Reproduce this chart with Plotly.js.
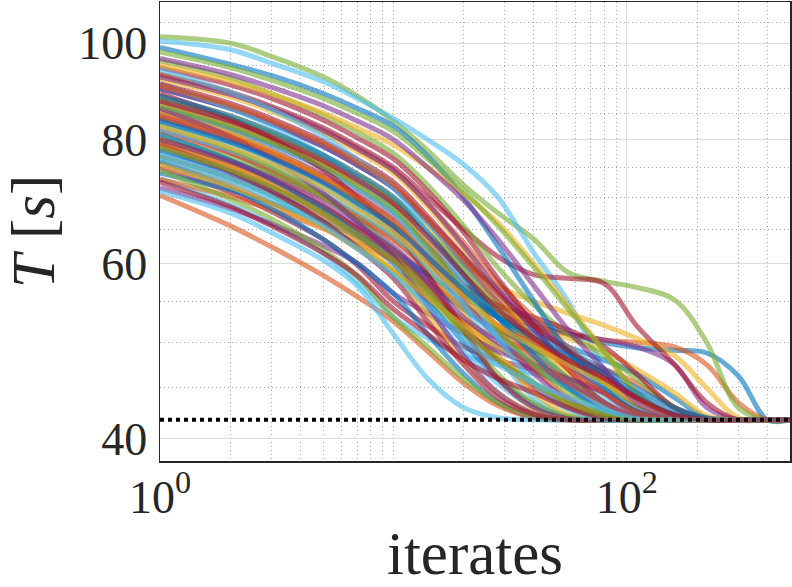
<!DOCTYPE html>
<html>
<head>
<meta charset="utf-8">
<script src="https://cdn.plot.ly/plotly-3.0.1.min.js"></script>
<style>html,body{margin:0;padding:0;background:#fff;}#chart{width:792px;height:587px;}</style>
</head>
<body>
<div id="chart"></div>
<script>
// iterate grid (x values shared by all runs)
const iters = [1, 2, 3, 5, 7, 10, 14, 20, 28, 40, 56, 80, 110, 160, 220, 300, 400, 500];
// converged value (dotted black line)
const targetT = 41.8;
const targetX = [1, 500];

// individual runs, T [s] read at the iterates above (colour order: blue, orange, yellow, purple, green, light blue, dark red)
const run01 = [84, 79.6, 76.5, 72.2, 68.7, 64.5, 60, 57, 54.5, 52.5, 51, 50, 49.4, 49.1, 48.8, 46.3, 41.8, 41.8];
const run02 = [80, 76.2, 73.5, 69.8, 66.8, 63.5, 59.5, 56, 53.5, 52, 51, 50.3, 50, 49.5, 47.5, 43.5, 41.8, 41.8];
const run03 = [86, 82.2, 79.4, 75.5, 72.5, 69, 64.5, 60, 57, 55, 53.5, 52, 50.5, 48.5, 45, 42, 41.8, 41.8];
const run04 = [78, 74.3, 71.6, 68.1, 65.2, 62, 58.5, 55.5, 53.5, 52, 51, 50.3, 49.5, 47.5, 43, 41.8, 41.8, 41.8];
const run05 = [101.5, 100, 97, 92.5, 88.5, 83.5, 78, 72, 67.5, 63.5, 58.8, 57.6, 56.8, 55.2, 50, 43, 41.8, 41.8];
const run06 = [100.5, 98.5, 95.5, 91.5, 88, 84, 80, 75.5, 70, 61.5, 55, 47, 42.5, 41.8, 41.8, 41.8, 41.8, 41.8];
const run07 = [93, 89.3, 86.4, 82.2, 78.8, 75, 70, 65, 61, 58.5, 58, 57.3, 52, 47.5, 43.5, 41.8, 41.8, 41.8];

const run08 = [90, 86, 83, 78.7, 75.4, 71.5, 66, 60, 55, 51.5, 49.5, 48, 46.5, 44, 42, 41.8, 41.8, 41.8];
const run09 = [76, 72, 69.1, 65.3, 62.2, 59, 55.5, 52.5, 50.5, 49, 48, 47, 45.5, 43, 41.9, 41.8, 41.8, 41.8];
const run10 = [88.5, 84.5, 81.5, 77.2, 73.9, 70, 65, 59, 54.5, 52, 50.5, 49, 47, 44.5, 42.2, 41.8, 41.8, 41.8];
const run11 = [82, 77.6, 74.3, 70, 66.4, 62.5, 58, 54, 51.5, 50, 48.5, 46.5, 44, 42.2, 41.8, 41.8, 41.8, 41.8];
const run12 = [96, 92.2, 89, 84.7, 81.4, 77.5, 72, 65.5, 59.5, 54.5, 51, 48.5, 46, 43, 41.9, 41.8, 41.8, 41.8];
const run13 = [73, 68.8, 65.8, 61.5, 57.5, 53, 50.5, 48.5, 47.5, 46.5, 45.5, 44, 42.5, 41.8, 41.8, 41.8, 41.8, 41.8];
const run14 = [85, 81, 78, 73.7, 70.4, 66.5, 61.5, 57, 54.5, 53, 51.5, 49.5, 46.5, 43, 41.9, 41.8, 41.8, 41.8];

const run15 = [78, 74, 71.1, 67.3, 64.2, 61, 57.5, 54, 51.5, 49.5, 47.5, 45, 42.8, 41.8, 41.8, 41.8, 41.8, 41.8];
const run16 = [93, 89.2, 86, 81.7, 78.4, 74.5, 69, 63, 57.5, 53, 49.5, 46, 43, 41.9, 41.8, 41.8, 41.8, 41.8];
const run17 = [84, 80, 77.2, 73, 69.6, 66, 61.5, 57, 53.5, 50.5, 48, 45.5, 43, 41.9, 41.8, 41.8, 41.8, 41.8];
const run18 = [90, 86, 83, 78.7, 75.4, 71.5, 66.5, 61, 56.5, 52.5, 49, 45.5, 43, 41.8, 41.8, 41.8, 41.8, 41.8];
const run19 = [80.5, 76.7, 74, 70.2, 67.2, 64, 60, 56, 53, 50.5, 48, 45.5, 43, 41.9, 41.8, 41.8, 41.8, 41.8];
const run20 = [87.5, 83.5, 80.5, 76.2, 72.9, 69, 64, 58.5, 54, 50.5, 47.5, 45, 42.8, 41.8, 41.8, 41.8, 41.8, 41.8];
const run21 = [75, 70.8, 67.7, 63.5, 59.8, 55, 52, 49.5, 48, 47, 46, 44.5, 42.6, 41.8, 41.8, 41.8, 41.8, 41.8];

const run22 = [86, 82, 79, 74.8, 71.4, 67.5, 62.5, 57.5, 53, 49, 46, 43.5, 42, 41.8, 41.8, 41.8, 41.8, 41.8];
const run23 = [81.5, 77.5, 74.7, 70.4, 67.1, 63.5, 59, 54.5, 51, 48, 45.5, 43.2, 41.9, 41.8, 41.8, 41.8, 41.8, 41.8];
const run24 = [92, 88.3, 85.4, 81.2, 77.8, 74, 68.5, 62, 56, 50.5, 46.5, 43.5, 42, 41.8, 41.8, 41.8, 41.8, 41.8];
const run25 = [77, 73.2, 70.5, 66.7, 63.7, 60.5, 56.5, 52.5, 49.5, 47, 45, 43, 41.9, 41.8, 41.8, 41.8, 41.8, 41.8];
const run26 = [88, 84, 81, 76.7, 73.4, 69.5, 64.5, 59, 54, 49.5, 46, 43.3, 41.9, 41.8, 41.8, 41.8, 41.8, 41.8];
const run27 = [82, 78, 75.2, 71, 67.6, 64, 59.5, 55, 51, 47.5, 45, 43, 41.9, 41.8, 41.8, 41.8, 41.8, 41.8];
const run28 = [94.5, 90.8, 88, 83.7, 80.3, 76.5, 71, 64.5, 58, 52, 47, 43.5, 42, 41.8, 41.8, 41.8, 41.8, 41.8];

const run29 = [74, 71.2, 69, 66.2, 64, 61.5, 58.5, 55.5, 53, 51, 49, 47, 45, 43, 42, 41.8, 41.8, 41.8];
const run30 = [87, 83, 80, 75.7, 72.4, 68.5, 63, 57, 51.5, 47, 44, 42.3, 41.8, 41.8, 41.8, 41.8, 41.8, 41.8];
const run31 = [79.5, 75.5, 72.7, 68.5, 65.1, 61.5, 57, 52.5, 48.5, 45.5, 43.3, 42, 41.8, 41.8, 41.8, 41.8, 41.8, 41.8];
const run32 = [84, 80, 77, 72.7, 69.4, 65.5, 60.5, 55, 50.5, 46.5, 43.8, 42.1, 41.8, 41.8, 41.8, 41.8, 41.8, 41.8];
const run33 = [77, 73, 70.2, 66, 62.6, 59, 55, 51, 48, 45.5, 43.5, 42.1, 41.8, 41.8, 41.8, 41.8, 41.8, 41.8];
const run34 = [91, 86, 82.5, 77.2, 73, 68, 61.5, 54.5, 48.5, 44, 42.2, 41.8, 41.8, 41.8, 41.8, 41.8, 41.8, 41.8];
const run35 = [80, 75.7, 72.8, 68.5, 65.1, 61.5, 57, 52, 48, 45, 43, 41.9, 41.8, 41.8, 41.8, 41.8, 41.8, 41.8];

const run36 = [81, 76.3, 73, 68.1, 64.3, 60, 55, 50, 46, 43.3, 42, 41.8, 41.8, 41.8, 41.8, 41.8, 41.8, 41.8];
const run37 = [73, 70.1, 68, 65.1, 62.9, 60.5, 57.5, 54.5, 52, 50, 48, 46, 44, 42.3, 41.8, 41.8, 41.8, 41.8];
const run38 = [85.5, 81.2, 77.8, 73.1, 69.3, 65, 59.5, 53.5, 48.5, 44.5, 42.3, 41.8, 41.8, 41.8, 41.8, 41.8, 41.8, 41.8];
const run39 = [71.5, 68.2, 65.8, 62.6, 60.1, 56, 53.5, 51, 49, 47.5, 46, 44.5, 42.6, 41.8, 41.8, 41.8, 41.8, 41.8];
const run40 = [83, 78.3, 75, 70.1, 66.3, 62, 56.5, 51, 46.5, 43.5, 42.1, 41.8, 41.8, 41.8, 41.8, 41.8, 41.8, 41.8];
const run41 = [77.5, 73.1, 70.2, 65.8, 62.4, 58.5, 54, 49, 45.5, 43, 41.9, 41.8, 41.8, 41.8, 41.8, 41.8, 41.8, 41.8];
const run42 = [89, 83.9, 80.2, 74.6, 70, 65, 58.5, 51.5, 46, 43, 41.9, 41.8, 41.8, 41.8, 41.8, 41.8, 41.8, 41.8];

const run43 = [76, 71.5, 68.2, 63.5, 60, 56, 51, 46.5, 43.5, 42, 41.8, 41.8, 41.8, 41.8, 41.8, 41.8, 41.8, 41.8];
const run44 = [70.3, 65.5, 62.4, 58.4, 55.6, 52.5, 49, 45.5, 43.2, 42, 41.8, 41.8, 41.8, 41.8, 41.8, 41.8, 41.8, 41.8];
const run45 = [80, 75.3, 72, 67.1, 63.3, 59, 53.5, 48, 44.5, 42.5, 41.8, 41.8, 41.8, 41.8, 41.8, 41.8, 41.8, 41.8];
const run46 = [86, 80.5, 76.5, 70.7, 66.1, 61, 54.5, 48.5, 44.5, 42.4, 41.8, 41.8, 41.8, 41.8, 41.8, 41.8, 41.8, 41.8];
const run47 = [74.5, 69.7, 66.6, 62, 58.3, 53, 49.5, 46, 43.5, 42.2, 41.8, 41.8, 41.8, 41.8, 41.8, 41.8, 41.8, 41.8];
const run48 = [71, 67.5, 64.5, 60.5, 57, 51, 46, 43, 42, 41.8, 41.8, 41.8, 41.8, 41.8, 41.8, 41.8, 41.8, 41.8];
const run49 = [79, 74.3, 71, 66.1, 62.3, 58, 52.5, 47.5, 44, 42.3, 41.8, 41.8, 41.8, 41.8, 41.8, 41.8, 41.8, 41.8];

const run50 = [99, 95.2, 92.8, 89, 86, 82.5, 77, 70, 62.5, 55, 49, 45, 42.5, 41.8, 41.8, 41.8, 41.8, 41.8];
const run51 = [84.5, 80.5, 77.5, 73.2, 69.9, 66, 61, 56, 52, 48.5, 45.5, 43, 41.9, 41.8, 41.8, 41.8, 41.8, 41.8];
const run52 = [95, 91.6, 88.9, 85.1, 82.2, 79, 75, 70.5, 66, 60, 54.5, 49, 44.5, 42.2, 41.8, 41.8, 41.8, 41.8];
const run53 = [92.5, 88.8, 86, 81.7, 78.3, 74.5, 69, 62.5, 56.5, 51.5, 47.5, 44.5, 42.3, 41.8, 41.8, 41.8, 41.8, 41.8];
const run54 = [98, 94.5, 91.8, 88, 85, 81.5, 76.5, 71, 65.5, 59.5, 54, 49, 44.5, 42.2, 41.8, 41.8, 41.8, 41.8];
const run55 = [83, 79, 76, 71.7, 68.4, 64.5, 59.5, 54.5, 50.5, 47.5, 45, 43, 41.9, 41.8, 41.8, 41.8, 41.8, 41.8];
const run56 = [91, 87, 84, 79.7, 76.4, 72.5, 67, 61, 56, 52, 49, 46.5, 44, 42.2, 41.8, 41.8, 41.8, 41.8];

const run57 = [88.5, 84.5, 81.5, 77.2, 73.9, 70, 64.5, 58.5, 53, 48.5, 45, 42.6, 41.8, 41.8, 41.8, 41.8, 41.8, 41.8];
const run58 = [79, 74.7, 71.8, 67.5, 64.1, 60.5, 56, 51.5, 48, 45.5, 43.5, 42.2, 41.8, 41.8, 41.8, 41.8, 41.8, 41.8];
const run59 = [75.5, 71.7, 69, 65.2, 62.2, 59, 55.5, 52, 49.5, 47.5, 45.5, 43.5, 42, 41.8, 41.8, 41.8, 41.8, 41.8];
const run60 = [80, 76, 73.2, 69, 65.6, 62, 57.5, 53, 50, 47.5, 45.5, 43.5, 42, 41.8, 41.8, 41.8, 41.8, 41.8];
const run61 = [86.5, 82.5, 79.5, 75.2, 71.9, 68, 62.5, 56.5, 51.5, 47.5, 44.5, 42.5, 41.8, 41.8, 41.8, 41.8, 41.8, 41.8];
const run62 = [94, 89.3, 85.8, 80.6, 76.4, 71.5, 64.5, 57, 50.5, 45.5, 42.8, 41.8, 41.8, 41.8, 41.8, 41.8, 41.8, 41.8];
const run63 = [72.5, 68.5, 65.5, 61.5, 58.4, 54, 51, 48, 46, 44.5, 43, 42, 41.8, 41.8, 41.8, 41.8, 41.8, 41.8];

const run64 = [83.5, 79.5, 76.7, 72.4, 69.1, 65.5, 61, 56.5, 53, 50.5, 48.5, 46.5, 44.5, 42.5, 41.8, 41.8, 41.8, 41.8];
const run65 = [90.5, 86.5, 83.5, 79.2, 75.9, 72, 66.5, 60.5, 55, 50.5, 47, 44.5, 42.5, 41.8, 41.8, 41.8, 41.8, 41.8];
const run66 = [82.5, 78.5, 75.7, 71.5, 68.1, 64.5, 60, 55.5, 52, 49.5, 47.5, 45.5, 43.5, 42, 41.8, 41.8, 41.8, 41.8];
const run67 = [96.5, 93, 90.3, 86.5, 83.5, 80, 75, 69.5, 63.5, 57, 51.5, 47, 43.5, 42, 41.8, 41.8, 41.8, 41.8];
const run68 = [78.5, 74.5, 71.7, 67.5, 64.1, 60.5, 56, 51.5, 48, 45.5, 43.5, 42.2, 41.8, 41.8, 41.8, 41.8, 41.8, 41.8];
const run69 = [76.5, 72.5, 69.7, 65.5, 62.1, 58.5, 54.5, 50.5, 47.5, 45.5, 44, 42.8, 41.9, 41.8, 41.8, 41.8, 41.8, 41.8];
const run70 = [87.5, 83.5, 80.5, 76.2, 72.9, 69, 64, 58.5, 54, 50.5, 48, 46, 44, 42.3, 41.8, 41.8, 41.8, 41.8];

const runs = [run01, run02, run03, run04, run05, run06, run07, run08, run09, run10,
  run11, run12, run13, run14, run15, run16, run17, run18, run19, run20,
  run21, run22, run23, run24, run25, run26, run27, run28, run29, run30,
  run31, run32, run33, run34, run35, run36, run37, run38, run39, run40,
  run41, run42, run43, run44, run45, run46, run47, run48, run49, run50,
  run51, run52, run53, run54, run55, run56, run57, run58, run59, run60,
  run61, run62, run63, run64, run65, run66, run67, run68, run69, run70];

// tick labels
const xTickVals = [1, 100];
const xTickText = ['10<sup>0</sup>', '10<sup>2</sup>'];
const xMinorVals = [2, 3, 4, 5, 6, 7, 8, 9, 10, 20, 30, 40, 50, 60, 70, 80, 90, 200, 300, 400];
const yTickVals = [40, 60, 80, 100];
const yTickText = ['40', '60', '80', '100'];
const yMinorVals = [45, 50, 55, 65, 70, 75, 85, 90, 95, 105];

const palette = ['#0072BD', '#D95319', '#EDB120', '#7E2F8E', '#77AC30', '#4DBEEE', '#A2142F'];

const traces = runs.map((ys, i) => ({
  type: 'scatter', mode: 'lines',
  x: iters.slice(0, ys.length), y: ys,
  line: {color: palette[i % palette.length], width: 5, shape: 'spline', smoothing: 1},
  opacity: 0.6, hoverinfo: 'skip', showlegend: false
}));
traces.push({
  type: 'scatter', mode: 'lines',
  x: targetX, y: [targetT, targetT],
  line: {color: '#000000', width: 4, dash: 'dot'},
  hoverinfo: 'skip', showlegend: false
});

const serif = 'Liberation Serif, Times New Roman, serif';
const layout = {
  width: 792, height: 587,
  margin: {l: 160, r: 2, t: 2, b: 126, pad: 0},
  paper_bgcolor: '#ffffff', plot_bgcolor: '#ffffff',
  showlegend: false,
  font: {family: serif, color: '#262626'},
  xaxis: {
    type: 'log', range: [0, Math.log10(500)],
    tickmode: 'array', tickvals: xTickVals, ticktext: xTickText,
    tickfont: {family: serif, size: 46, color: '#262626'},
    ticks: '', ticklabelstandoff: -5,
    showgrid: true, gridcolor: '#dddddd', gridwidth: 1,
    minor: {tickmode: 'array', tickvals: xMinorVals, showgrid: true, gridcolor: '#a8a8a8', griddash: '1px,3px', gridwidth: 1, ticks: ''},
    showline: true, mirror: true, linecolor: '#262626', linewidth: 1.5,
    zeroline: false, automargin: false,
    title: {text: 'iterates', font: {family: serif, size: 61, color: '#262626'}, standoff: 44}
  },
  yaxis: {
    type: 'log', range: [Math.log10(38), Math.log10(110)],
    tickmode: 'array', tickvals: yTickVals, ticktext: yTickText,
    tickfont: {family: serif, size: 46, color: '#262626'},
    ticks: '', ticklabelstandoff: 2,
    showgrid: true, gridcolor: '#dddddd', gridwidth: 1,
    minor: {tickmode: 'array', tickvals: yMinorVals, showgrid: true, gridcolor: '#a8a8a8', griddash: '1px,3px', gridwidth: 1, ticks: ''},
    showline: true, mirror: true, linecolor: '#262626', linewidth: 1.5,
    zeroline: false, automargin: false,
    title: {text: '<i>T</i> [<i>s</i>]', font: {family: serif, size: 61, color: '#262626'}, standoff: 52}
  }
};

Plotly.newPlot('chart', traces, layout, {staticPlot: true, displayModeBar: false});
</script>
</body>
</html>
